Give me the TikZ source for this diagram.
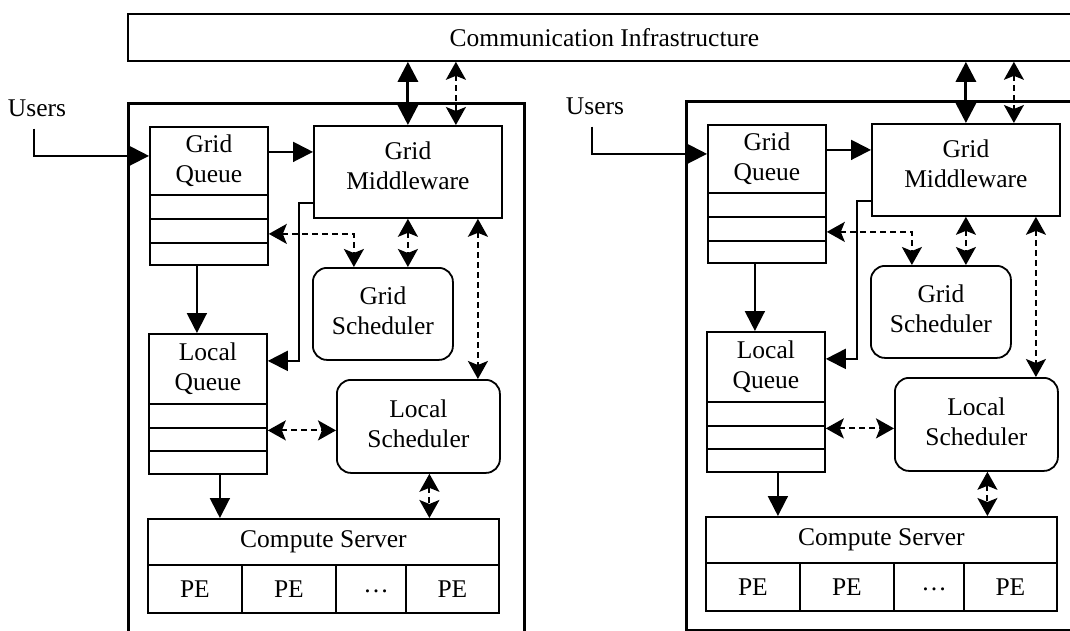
\documentclass[tikz,border=0pt]{standalone}
\usepackage{fontspec}
\setmainfont{Liberation Serif}
\usetikzlibrary{arrows.meta,calc}
\tikzset{
  lbl/.style={font=\fontsize{25.5}{30}\selectfont, align=center, inner sep=0pt},
  box/.style={lbl, draw, line width=1.8pt, anchor=north west},
  rbox/.style={box, rounded corners=14pt},
  outerbox/.style={draw, line width=3.4pt, anchor=north west, inner sep=0pt},
  solidarr/.style={line width=1.9pt, -{Triangle[length=20pt,width=20pt]}},
  thickarr/.style={line width=3pt, {Triangle[length=20pt,width=20pt]}-{Triangle[length=20pt,width=20pt]}},
  dasharr/.style={line width=2pt, dash pattern=on 6pt off 4pt,
    {Stealth[length=18pt,width=20pt,inset=4pt]}-{Stealth[length=18pt,width=20pt,inset=4pt]}},
}
\newcommand\gridpane[2]{%
\begin{scope}[shift={#2}]
  \node[outerbox, minimum width=396pt, minimum height=529pt] (site#1) at (127,102) {};
  \node[lbl] (users#1) at (37,108) {Users};
  % grid queue
  \node[box, minimum width=118pt, minimum height=68pt] (gqh#1) at (149,126) {Grid\\Queue};
  \node[box, minimum width=118pt, minimum height=24pt] (gqra#1) at (149,194) {};
  \node[box, minimum width=118pt, minimum height=24pt] (gqrb#1) at (149,218) {};
  \node[box, minimum width=118pt, minimum height=22pt] (gqrc#1) at (149,242) {};
  % grid middleware
  \node[box, minimum width=188pt, minimum height=92pt] (mw#1) at (313,125) {Grid\\Middleware\\[-18pt]};
  % grid scheduler
  \node[rbox, minimum width=140pt, minimum height=92pt] (gs#1) at (312,267) {Grid\\Scheduler\\[-24pt]};
  % local queue
  \node[box, minimum width=118pt, minimum height=70pt] (lqh#1) at (148,333) {Local\\Queue};
  \node[box, minimum width=118pt, minimum height=24pt] (lqra#1) at (148,403) {};
  \node[box, minimum width=118pt, minimum height=23pt] (lqrb#1) at (148,427) {};
  \node[box, minimum width=118pt, minimum height=23pt] (lqrc#1) at (148,450) {};
  % local scheduler
  \node[rbox, minimum width=163pt, minimum height=93pt] (ls#1) at (336,379) {Local\\Scheduler\\[-24pt]};
  % compute server
  \node[box, minimum width=351pt, minimum height=46pt] (csh#1) at (147,518) {Compute Server};
  \node[box, minimum width=351pt, minimum height=48pt] (csb#1) at (147,564) {};
  \node[box, minimum width=94pt, minimum height=48pt] (pea#1) at (147,564) {PE};
  \node[box, minimum width=94pt, minimum height=48pt] (peb#1) at (241,564) {PE};
  \node[box, minimum width=93pt, minimum height=48pt] (pec#1) at (405,564) {PE};
  \node[lbl] (dots#1) at (376,591) {\dots};
  % connectors
  \draw[thickarr] (mw#1.north |- comm.south) -- (mw#1.north);
  \draw[dasharr] ([xshift=48pt]mw#1.north |- comm.south) -- ([xshift=48pt]mw#1.north);
  \draw[solidarr] ([xshift=-3pt,yshift=-12pt]users#1.south) |- ([yshift=5pt]gqh#1.west);
  \draw[solidarr] ([yshift=9pt]gqh#1.east) -- ([yshift=9pt]gqh#1.east -| mw#1.west);
  \draw[solidarr] ([yshift=-31pt]mw#1.west) -- ++(-14,0) |- ([yshift=8pt]lqh#1.east);
  \draw[solidarr] ([xshift=-12pt]gqrc#1.south) -- ([xshift=-12pt]gqrc#1.south |- lqh#1.north);
  \draw[solidarr] ([xshift=12pt]lqrc#1.south) -- ([xshift=12pt]lqrc#1.south |- csh#1.north);
  \draw[dasharr] ([yshift=-3pt]gqrb#1.east) -| ([xshift=-29pt]gs#1.north);
  \draw[dasharr] (mw#1.south) -- (mw#1.south |- gs#1.north);
  \draw[dasharr] ([xshift=70pt]mw#1.south) -- ([xshift=70pt]mw#1.south |- ls#1.north);
  \draw[dasharr] ([yshift=9pt]lqrb#1.east) -- ([yshift=9pt]lqrb#1.east -| ls#1.west);
  \draw[dasharr] ([xshift=11pt]ls#1.south) -- ([xshift=11pt]ls#1.south |- csh#1.north);
\end{scope}}
\begin{document}
\begin{tikzpicture}[x=1pt,y=-1pt]
  \useasboundingbox (0,0) rectangle (1070,631);
  \clip (0,0) rectangle (1070,631);
  \node[box, minimum width=953pt, minimum height=47pt] (comm) at (127,13) {Communication Infrastructure};
  \gridpane{L}{(0,0)}
  \gridpane{R}{(558,-2)}
\end{tikzpicture}
\end{document}
